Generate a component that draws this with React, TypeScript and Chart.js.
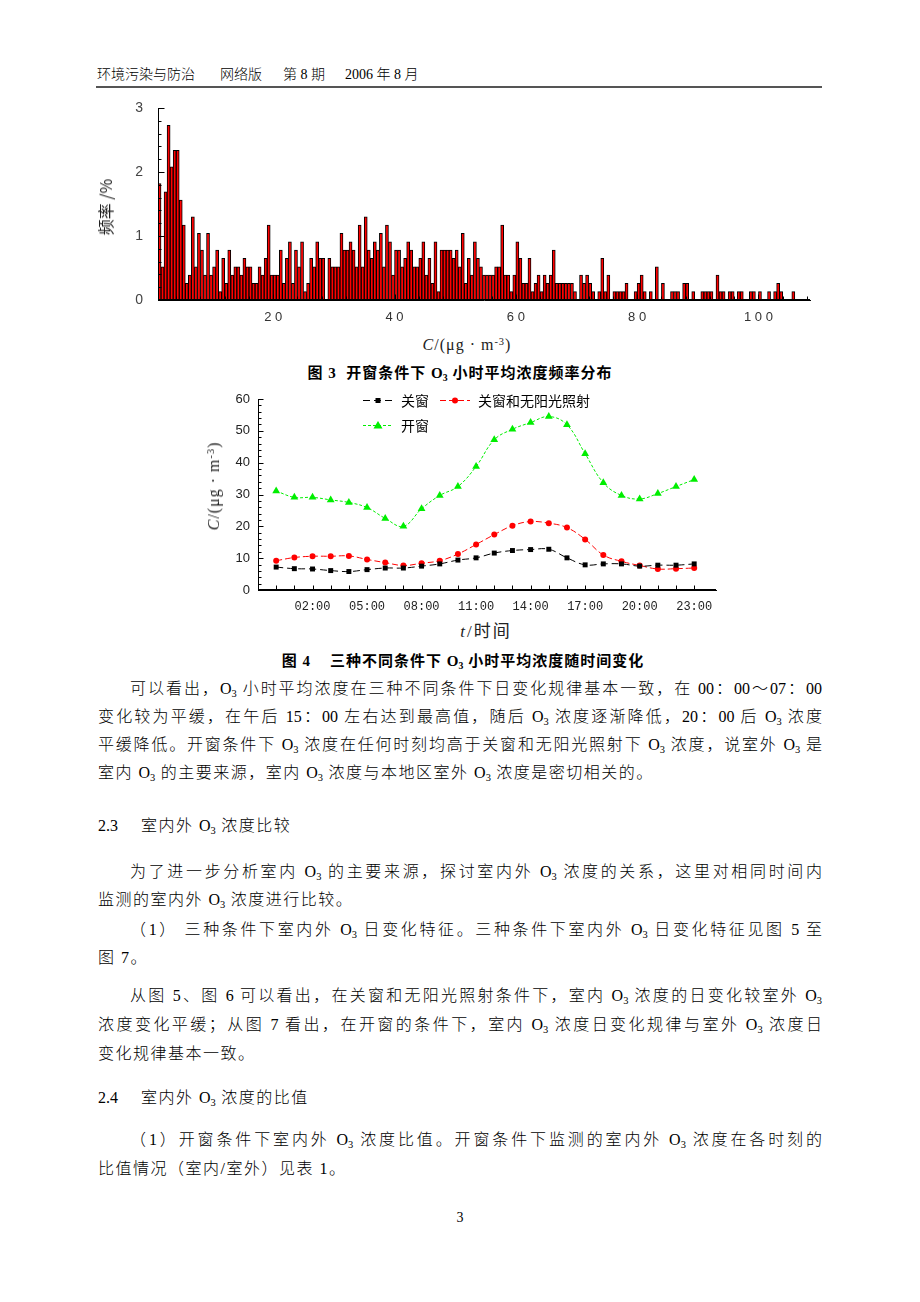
import React, { useEffect, useRef } from 'react';
import { Chart, registerables } from 'chart.js';

Chart.register(...registerables);

// ---------------- Figure 3: frequency distribution of hourly O3 (window open) ----------------
const freqBinStart = 1.0; // μg·m-3, left edge of first bin
const freqBinWidth = 0.5; // μg·m-3
const freqPercent = [
  1.82, 0.52, 1.69, 2.73, 2.08, 2.34, 2.34, 1.56, 1.17, 0.26,
  0.39, 1.3, 0.52, 1.04, 0.78, 0.39, 1.04, 0.39, 0.52, 0.78,
  0.13, 0.65, 0.26, 0.78, 0.39, 0.52, 0.52, 0.39, 0.65, 0.52,
  0.52, 0.26, 0.26, 0.52, 0.39, 0.65, 1.17, 0.39, 0.39, 0.39,
  0.78, 0.26, 0.65, 0.91, 0.26, 0.78, 0.52, 0.91, 0.13, 0.26,
  0.65, 0.52, 0.91, 0.65,
  0.65, 0, 0.65, 0.52, 0.52, 0.52, 1.04, 0.78, 0.78, 0.91,
  0.78, 0.52, 1.17, 0.52, 1.3, 0.78, 0.65, 0.91, 0.78, 1.04,
  0.52, 1.17, 0.91, 0.39, 0.78, 0.78, 0.52, 0.65, 0.91, 0.78,
  0.52, 0.52, 0.65, 0.91, 0.39, 0.65, 0.26, 0.91, 0.13, 0.78,
  0.78, 0.78, 0.78, 0.65, 0.78, 0.52, 1.04, 0.26, 0.65, 0.39,
  0.91, 0.65, 0.52, 0.39, 0.39,
  0.39, 0.39, 0.52, 0.52, 1.17, 0.39, 0.39, 0.13, 0.39, 0.91,
  0.65, 0.26, 0.26, 0.65, 0.13, 0.26, 0.39, 0.13, 0.39, 0.26,
  0.39, 0.78, 0.26, 0.26, 0.26, 0.26, 0.26, 0.26, 0.13, 0,
  0.39, 0.26, 0.39, 0.26, 0.13, 0, 0.13, 0.65, 0.13, 0.39,
  0, 0.13, 0.13, 0.13, 0.13, 0.26, 0, 0, 0.13, 0.26,
  0.39, 0.13, 0, 0.13,
  0, 0.52, 0, 0.26, 0, 0, 0.13, 0.13, 0.13, 0,
  0.26, 0.26, 0, 0.13, 0, 0, 0.13, 0.13, 0.13, 0.13,
  0, 0.39, 0.13, 0.13, 0, 0.13, 0.13, 0, 0.13, 0.13,
  0, 0, 0.13, 0.13, 0, 0.13, 0, 0, 0.13, 0,
  0.13, 0.26, 0.13, 0, 0, 0, 0.13,
];
const freqYTickValues = [0, 1, 2, 3];
const freqXTickValues = [20, 40, 60, 80, 100];
const freqXTickLabels = ['2 0', '4 0', '6 0', '8 0', '1 0 0'];

// ---------------- Figure 4: hourly mean O3 under three conditions ----------------
const hours = [0, 1, 2, 3, 4, 5, 6, 7, 8, 9, 10, 11, 12, 13, 14, 15, 16, 17, 18, 19, 20, 21, 22, 23];
const hourTickValues = [2, 5, 8, 11, 14, 17, 20, 23];
const hourTickLabels = ['02:00', '05:00', '08:00', '11:00', '14:00', '17:00', '20:00', '23:00'];
const concYTickValues = [0, 10, 20, 30, 40, 50, 60];
const seriesNames = ['关窗', '关窗和无阳光照射', '开窗'];
const closedWindow = [7.2, 6.7, 6.6, 6.1, 5.8, 6.4, 6.9, 6.9, 7.5, 8.2, 9.4, 10.1, 11.6, 12.4, 12.7, 12.8, 10.1, 7.9, 8.2, 8.2, 7.5, 7.8, 7.8, 8.2];
const closedNoSun = [9.2, 10.2, 10.6, 10.6, 10.7, 9.6, 8.6, 7.7, 8.4, 9.2, 11.3, 14.3, 17.4, 20.2, 21.5, 21.0, 19.6, 15.9, 11.0, 9.0, 7.7, 6.6, 6.7, 6.9];
const openWindow = [31.1, 29.1, 29.1, 28.3, 27.5, 25.9, 22.5, 20.0, 25.5, 29.7, 32.5, 38.8, 47.2, 50.5, 52.6, 54.5, 51.9, 42.8, 33.7, 29.7, 28.6, 30.3, 32.5, 34.7];

// ---------------- helpers ----------------
type TickCfg = {
  xMajor: number[]; xMajorLen: number; xMinor: number[]; xMinorLen: number;
  yMajor: number[]; yMajorLen: number; yMinor: number[]; yMinorLen: number;
};

function makeInnerTicks(cfg: TickCfg) {
  return {
    id: 'innerTicks',
    afterDatasetsDraw(chart: any) {
      const { ctx, chartArea } = chart;
      const xs = chart.scales.x;
      const ys = chart.scales.y;
      ctx.save();
      ctx.setLineDash([]);
      ctx.strokeStyle = '#000';
      ctx.lineWidth = 1;
      ctx.beginPath();
      const bx = Math.round(chartArea.bottom) - 0.5;
      const lx = Math.round(chartArea.left) + 0.5;
      const dx = (vals: number[], len: number) => vals.forEach((v) => {
        const px = Math.round(xs.getPixelForValue(v)) + 0.5;
        ctx.moveTo(px, bx);
        ctx.lineTo(px, bx - len);
      });
      const dy = (vals: number[], len: number) => vals.forEach((v) => {
        const py = Math.round(ys.getPixelForValue(v)) + 0.5;
        ctx.moveTo(lx, py);
        ctx.lineTo(lx + len, py);
      });
      dx(cfg.xMajor, cfg.xMajorLen);
      dx(cfg.xMinor, cfg.xMinorLen);
      dy(cfg.yMajor, cfg.yMajorLen);
      dy(cfg.yMinor, cfg.yMinorLen);
      ctx.moveTo(chartArea.left, bx);
      ctx.lineTo(chartArea.right, bx);
      ctx.moveTo(lx, chartArea.top);
      ctx.lineTo(lx, chartArea.bottom);
      ctx.stroke();
      ctx.restore();
    },
  };
}

type LegendItem = { dataset: number; x: number; y: number };

function makeLegend(items: LegendItem[]) {
  return {
    id: 'customLegend',
    afterDatasetsDraw(chart: any) {
      const ctx = chart.ctx;
      items.forEach((it) => {
        const ds: any = chart.data.datasets[it.dataset];
        ctx.save();
        ctx.strokeStyle = ds.borderColor;
        ctx.lineWidth = 1;
        ctx.setLineDash(ds.borderDash || []);
        ctx.beginPath();
        ctx.moveTo(it.x, it.y + 0.5);
        ctx.lineTo(it.x + 30, it.y + 0.5);
        ctx.stroke();
        ctx.setLineDash([]);
        ctx.fillStyle = ds.pointBackgroundColor;
        const cx = it.x + 15;
        const cy = it.y + 0.5;
        ctx.beginPath();
        if (ds.pointStyle === 'rect') {
          ctx.rect(cx - 2.5, cy - 2.5, 5, 5);
        } else if (ds.pointStyle === 'triangle') {
          ctx.moveTo(cx, cy - 4.5);
          ctx.lineTo(cx - 4.5, cy + 3);
          ctx.lineTo(cx + 4.5, cy + 3);
          ctx.closePath();
        } else {
          ctx.arc(cx, cy, 3, 0, Math.PI * 2);
        }
        ctx.fill();
        ctx.fillStyle = '#000';
        ctx.font = '14px "Noto Sans CJK SC", sans-serif';
        ctx.textBaseline = 'middle';
        ctx.textAlign = 'left';
        ctx.fillText(ds.label, it.x + 38, it.y + 1);
        ctx.restore();
      });
    },
  };
}

const axisGrid = { display: true, drawOnChartArea: false, drawTicks: false, offset: false };
const axisBorder = { display: true, color: '#000', width: 1 };
const zeroPad = (s: any) => { s.paddingTop = 0; s.paddingBottom = 0; s.paddingLeft = 0; s.paddingRight = 0; };

function HistogramChart() {
  const ref = useRef<HTMLCanvasElement>(null);
  useEffect(() => {
    if (!ref.current) return;
    const yMinor: number[] = [];
    for (let k = 1; k < 15; k++) if (k % 5 !== 0) yMinor.push(k * 0.2);
    const xMinor: number[] = [];
    for (let v = 4; v <= 108; v += 4) if (v % 20 !== 0) xMinor.push(v);
    const chart = new Chart(ref.current, {
      type: 'bar',
      data: {
        datasets: [
          {
            label: '频率',
            data: freqPercent.map((v, i) => ({ x: freqBinStart + freqBinWidth * (i + 0.5), y: v })),
            backgroundColor: '#ff0000',
            borderColor: '#000000',
            borderWidth: 1,
            barPercentage: 1,
            categoryPercentage: 1,
            borderSkipped: 'start',
          } as any,
        ],
      },
      options: {
        responsive: false,
        animation: false,
        devicePixelRatio: 1,
        events: [],
        layout: { padding: { top: 13, right: 10, left: 0, bottom: 0 } },
        plugins: { legend: { display: false }, tooltip: { enabled: false } },
        scales: {
          x: {
            type: 'linear',
            min: 1,
            max: 108.5,
            offset: false,
            grid: axisGrid,
            border: axisBorder,
            afterBuildTicks: (s: any) => { s.ticks = freqXTickValues.map((v) => ({ value: v })); },
            ticks: {
              autoSkip: false,
              maxRotation: 0,
              padding: 10,
              color: '#333',
              font: { family: '"Liberation Sans", Arial, sans-serif', size: 13 },
              callback: (_v: any, i: number) => freqXTickLabels[i],
            },
            afterFit: (s: any) => { s.height = 35; zeroPad(s); },
          },
          y: {
            type: 'linear',
            min: 0,
            max: 3,
            grid: axisGrid,
            border: axisBorder,
            afterBuildTicks: (s: any) => { s.ticks = freqYTickValues.map((v) => ({ value: v })); },
            ticks: {
              padding: 15,
              color: '#444',
              font: { family: '"Liberation Sans", Arial, sans-serif', size: 14 },
              callback: (v: any) => String(v),
            },
            afterFit: (s: any) => { s.width = 68; zeroPad(s); },
          },
        },
      } as any,
      plugins: [
        makeInnerTicks({
          xMajor: freqXTickValues, xMajorLen: 5, xMinor, xMinorLen: 3,
          yMajor: freqYTickValues, yMajorLen: 6, yMinor, yMinorLen: 3,
        }),
      ],
    });
    return () => chart.destroy();
  }, []);
  return <canvas ref={ref} width={730} height={240} style={{ position: 'absolute', left: 90, top: 95 }} />;
}

function HourlyChart() {
  const ref = useRef<HTMLCanvasElement>(null);
  useEffect(() => {
    if (!ref.current) return;
    const yMinor: number[] = [];
    for (let v = 2; v < 60; v += 2) if (v % 10 !== 0) yMinor.push(v);
    const toPts = (arr: number[]) => hours.map((h, i) => ({ x: h, y: arr[i] }));
    const chart = new Chart(ref.current, {
      type: 'line',
      data: {
        datasets: [
          {
            label: seriesNames[0],
            data: toPts(closedWindow),
            borderColor: '#000000',
            backgroundColor: '#000000',
            pointBackgroundColor: '#000000',
            pointBorderColor: '#000000',
            pointStyle: 'rect',
            pointRadius: 3.5,
            pointBorderWidth: 0,
            borderWidth: 1,
            borderDash: [7, 4],
            tension: 0.4,
            fill: false,
          },
          {
            label: seriesNames[1],
            data: toPts(closedNoSun),
            borderColor: '#ff0000',
            backgroundColor: '#ff0000',
            pointBackgroundColor: '#ff0000',
            pointBorderColor: '#ff0000',
            pointStyle: 'circle',
            pointRadius: 3,
            pointBorderWidth: 0,
            borderWidth: 1,
            borderDash: [6, 3],
            tension: 0.4,
            fill: false,
          },
          {
            label: seriesNames[2],
            data: toPts(openWindow),
            borderColor: '#00ee00',
            backgroundColor: '#00ee00',
            pointBackgroundColor: '#00ee00',
            pointBorderColor: '#00ee00',
            pointStyle: 'triangle',
            pointRadius: 4.5,
            pointBorderWidth: 0,
            borderWidth: 1,
            borderDash: [3, 2],
            tension: 0.4,
            fill: false,
          },
        ] as any,
      },
      options: {
        responsive: false,
        animation: false,
        devicePixelRatio: 1,
        events: [],
        layout: { padding: { top: 14, right: 14, left: 0, bottom: 0 } },
        plugins: { legend: { display: false }, tooltip: { enabled: false } },
        scales: {
          x: {
            type: 'linear',
            min: -1,
            max: 24.2,
            grid: axisGrid,
            border: axisBorder,
            afterBuildTicks: (s: any) => { s.ticks = hourTickValues.map((v) => ({ value: v })); },
            ticks: {
              autoSkip: false,
              maxRotation: 0,
              padding: 10,
              color: '#222',
              font: { family: '"Liberation Mono", "DejaVu Sans Mono", monospace', size: 12 },
              callback: (_v: any, i: number) => hourTickLabels[i],
            },
            afterFit: (s: any) => { s.height = 27; zeroPad(s); },
          },
          y: {
            type: 'linear',
            min: 0,
            max: 60,
            grid: axisGrid,
            border: axisBorder,
            afterBuildTicks: (s: any) => { s.ticks = concYTickValues.map((v) => ({ value: v })); },
            ticks: {
              padding: 8,
              color: '#222',
              font: { family: '"Liberation Sans", Arial, sans-serif', size: 13 },
              callback: (v: any) => String(v),
            },
            afterFit: (s: any) => { s.width = 68; zeroPad(s); },
          },
        },
      } as any,
      plugins: [
        makeInnerTicks({
          xMajor: hours, xMajorLen: 4, xMinor: [], xMinorLen: 0,
          yMajor: concYTickValues, yMajorLen: 5, yMinor, yMinorLen: 3,
        }),
        makeLegend([
          { dataset: 0, x: 173, y: 15 },
          { dataset: 1, x: 250, y: 15 },
          { dataset: 2, x: 173, y: 40 },
        ]),
      ],
    });
    return () => chart.destroy();
  }, []);
  return <canvas ref={ref} width={540} height={232} style={{ position: 'absolute', left: 190, top: 385 }} />;
}

// ---------------- text helpers ----------------
const O3 = () => (
  <span style={{ letterSpacing: 0 }}>O<sub style={{ fontSize: '0.65em', verticalAlign: '-0.3em', lineHeight: 0 }}>3</sub></span>
);

function Line(props: { y: number; left?: number; width?: number; justify?: boolean; children: any }) {
  const { y, left = 98, width = 724, justify = false, children } = props;
  return (
    <div
      style={{
        position: 'absolute',
        left,
        top: y - 14,
        width,
        height: 28,
        lineHeight: '28px',
        fontSize: 16,
        fontWeight: 300,
        letterSpacing: justify ? 0 : 1.5,
        textAlign: justify ? 'justify' : 'left',
        textAlignLast: justify ? 'justify' : 'auto',
      } as any}
    >
      {children}
    </div>
  );
}

const serif = '"Liberation Serif", "Noto Sans CJK SC", serif';
const cjkSans = '"Noto Sans CJK SC", sans-serif';

function Rotated(props: { cx: number; cy: number; children: any; size?: number; family?: string; spacing?: number }) {
  return (
    <div
      style={{
        position: 'absolute',
        left: props.cx,
        top: props.cy,
        transform: 'translate(-50%, -50%) rotate(-90deg)',
        whiteSpace: 'nowrap',
        fontSize: props.size || 15,
        fontFamily: props.family || serif,
        letterSpacing: props.spacing || 0,
        color: '#222',
        lineHeight: '18px',
      }}
    >
      {props.children}
    </div>
  );
}

function Centered(props: { cx: number; cy: number; children: any; size?: number; family?: string; bold?: boolean; color?: string; spacing?: number }) {
  return (
    <div
      style={{
        position: 'absolute',
        left: props.cx,
        top: props.cy,
        transform: 'translate(-50%, -50%)',
        whiteSpace: 'nowrap',
        fontSize: props.size || 15,
        fontFamily: props.family || serif,
        fontWeight: props.bold ? 'bold' : 'normal',
        letterSpacing: props.spacing || 0,
        color: props.color || '#000',
        lineHeight: '20px',
      }}
    >
      {props.children}
    </div>
  );
}

const unitText = (
  <span>
    <i>C</i>/(μg · m<sup style={{ fontSize: '0.65em', verticalAlign: '0.5em', lineHeight: 0 }}>-3</sup>)
  </span>
);

const headerStyle: any = { position: 'absolute', top: 66, fontSize: 14, lineHeight: '18px', whiteSpace: 'nowrap', fontWeight: 300 };

export default function App() {
  return (
    <div
      style={{
        position: 'absolute',
        left: 0,
        top: 0,
        width: 920,
        height: 1302,
        background: '#ffffff',
        overflow: 'hidden',
        fontFamily: serif,
        color: '#000',
      }}
    >
      {/* header */}
      <div style={{ ...headerStyle, left: 97 }}>环境污染与防治</div>
      <div style={{ ...headerStyle, left: 220 }}>网络版</div>
      <div style={{ ...headerStyle, left: 283 }}>第 8 期</div>
      <div style={{ ...headerStyle, left: 345 }}>2006 年 8 月</div>
      <div style={{ position: 'absolute', top: 86, left: 96, width: 726, height: 2, background: '#555' }} />

      {/* Figure 3 */}
      <HistogramChart />
      <Rotated cx={105} cy={207} family={cjkSans} size={16}>频率 /%</Rotated>
      <Centered cx={467} cy={345} size={16} color="#222" spacing={1}>{unitText}</Centered>
      <Centered cx={460} cy={373} size={15} bold spacing={1}>
        图 3&nbsp;&nbsp;开窗条件下 <O3 /> 小时平均浓度频率分布
      </Centered>

      {/* Figure 4 */}
      <HourlyChart />
      <Rotated cx={214} cy={486} size={16} spacing={1}>{unitText}</Rotated>
      <Centered cx={486} cy={631} size={17} color="#222" spacing={2}>
        <i>t</i>/<span style={{ fontFamily: cjkSans }}>时间</span>
      </Centered>
      <Centered cx={463} cy={661} size={15} bold spacing={1}>
        图 4&nbsp;&nbsp;&nbsp;&nbsp;三种不同条件下 <O3 /> 小时平均浓度随时间变化
      </Centered>

      {/* body text */}
      <Line y={689} left={130} width={692} justify>
        可以看出，<O3 /> 小时平均浓度在三种不同条件下日变化规律基本一致，在 00：00～07：00
      </Line>
      <Line y={717} justify>
        变化较为平缓，在午后 15：00 左右达到最高值，随后 <O3 /> 浓度逐渐降低，20：00 后 <O3 /> 浓度
      </Line>
      <Line y={745} justify>
        平缓降低。开窗条件下 <O3 /> 浓度在任何时刻均高于关窗和无阳光照射下 <O3 /> 浓度，说室外 <O3 /> 是
      </Line>
      <Line y={773}>
        室内 <O3 /> 的主要来源，室内 <O3 /> 浓度与本地区室外 <O3 /> 浓度是密切相关的。
      </Line>

      <Line y={826}>
        <span style={{ display: 'inline-block', width: 43, letterSpacing: 0 }}>2.3</span>室内外 <O3 /> 浓度比较
      </Line>

      <Line y={872} left={130} width={692} justify>
        为了进一步分析室内 <O3 /> 的主要来源，探讨室内外 <O3 /> 浓度的关系，这里对相同时间内
      </Line>
      <Line y={900}>
        监测的室内外 <O3 /> 浓度进行比较。
      </Line>
      <Line y={930} left={130} width={692} justify>
        （1） 三种条件下室内外 <O3 /> 日变化特征。三种条件下室内外 <O3 /> 日变化特征见图 5 至
      </Line>
      <Line y={958}>图 7。</Line>
      <Line y={996} left={130} width={692} justify>
        从图 5、图 6 可以看出，在关窗和无阳光照射条件下，室内 <O3 /> 浓度的日变化较室外 <O3 />
      </Line>
      <Line y={1025} justify>
        浓度变化平缓；从图 7 看出，在开窗的条件下，室内 <O3 /> 浓度日变化规律与室外 <O3 /> 浓度日
      </Line>
      <Line y={1054}>变化规律基本一致。</Line>

      <Line y={1098}>
        <span style={{ display: 'inline-block', width: 43, letterSpacing: 0 }}>2.4</span>室内外 <O3 /> 浓度的比值
      </Line>

      <Line y={1140} left={130} width={692} justify>
        （1）开窗条件下室内外 <O3 /> 浓度比值。开窗条件下监测的室内外 <O3 /> 浓度在各时刻的
      </Line>
      <Line y={1169}>比值情况（室内/室外）见表 1。</Line>

      <Centered cx={460} cy={1218} size={14}>3</Centered>
    </div>
  );
}
